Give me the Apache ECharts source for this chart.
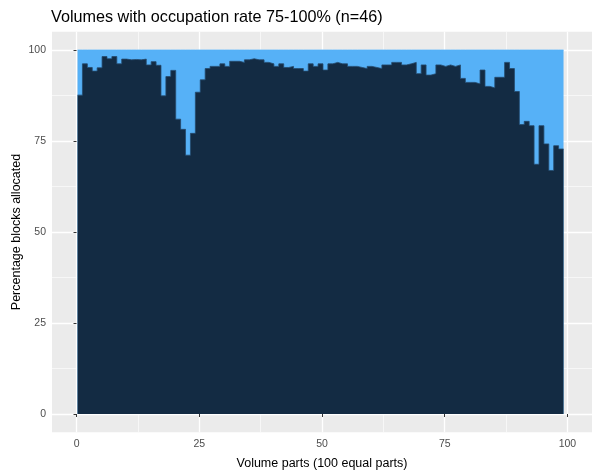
<!DOCTYPE html>
<html>
<head>
<meta charset="utf-8">
<script src="https://cdn.jsdelivr.net/npm/echarts@6/dist/echarts.min.js"></script>
<style>
  html, body { margin: 0; padding: 0; background: #ffffff; }
  #chart { width: 592px; height: 471px; }
</style>
</head>
<body>
<div id="chart"></div>
<script>
// Share of blocks allocated in each of the 99 volume parts (percent)
const allocated = [
  87.6, 96.2, 95.2, 94.2, 95.1, 98.2, 97.6, 98.2, 96.2, 97.5,
  97.3, 97.4, 97.3, 97.5, 95.9, 96.8, 95.8, 87.4, 92.7, 94.4,
  81.0, 78.2, 71.1, 77.1, 88.4, 91.8, 94.9, 95.5, 95.5, 96.2,
  95.5, 96.9, 96.9, 96.6, 97.3, 97.6, 97.3, 97.3, 96.6, 96.2,
  95.5, 96.2, 95.2, 95.5, 94.9, 94.9, 94.2, 96.2, 95.5, 96.2,
  94.5, 96.2, 96.6, 96.2, 96.2, 95.5, 95.5, 95.2, 94.9, 95.5,
  95.2, 94.9, 95.9, 95.9, 96.6, 96.6, 95.9, 96.2, 96.6, 93.5,
  95.9, 93.1, 93.5, 95.9, 95.5, 95.9, 95.5, 95.9, 92.2, 91.1,
  91.1, 90.7, 94.5, 90.0, 89.6, 92.5, 92.5, 96.6, 94.9, 88.6,
  79.5, 80.4, 79.2, 68.6, 79.2, 74.2, 66.9, 73.7, 72.8
];
const fullShare = 100;          // every part is drawn against a 100 % column
const firstPartLeft = 0.2;      // x position where the first part begins
const partWidth = 1;
const xTicks = [0, 25, 50, 75, 100];
const xMinorTicks = [12.5, 37.5, 62.5, 87.5];
const yTicks = [0, 25, 50, 75, 100];
const yMinorTicks = [12.5, 37.5, 62.5, 87.5];

const FONT = 'Liberation Sans, Arial, sans-serif';
const DARK = '#132B43';
const LIGHT = '#56B1F7';

// Columns are drawn as one stepped area so neighbouring parts join without seams.
const edge = i => firstPartLeft + i * partWidth;
const allocatedSteps = allocated.map((v, i) => [edge(i), v]);
allocatedSteps.push([edge(allocated.length), allocated[allocated.length - 1]]);
const fullSteps = allocated.map((v, i) => [edge(i), fullShare]);
fullSteps.push([edge(allocated.length), fullShare]);

function mainAxis(ticks, extra) {
  return Object.assign({
    type: 'value', min: -5, max: 105,
    axisLine: { show: false },
    axisTick: { show: true, customValues: ticks, length: 3, lineStyle: { color: '#333333', width: 1 } },
    axisLabel: { customValues: ticks, color: '#4D4D4D', fontSize: 10.5, fontFamily: FONT, margin: 6 },
    splitLine: { show: true, lineStyle: { color: '#FFFFFF', width: 1.3 } },
    nameLocation: 'middle',
    nameMoveOverlap: false,
    nameTextStyle: { color: '#000000', fontSize: 12.5, fontFamily: FONT }
  }, extra);
}

function minorAxis(ticks, extra) {
  return Object.assign({
    type: 'value', min: -5, max: 105,
    axisLine: { show: false },
    axisTick: { show: false, customValues: ticks },
    axisLabel: { show: false, customValues: ticks },
    splitLine: { show: true, lineStyle: { color: '#FFFFFF', width: 0.6 } }
  }, extra);
}

function steppedArea(data, color, edgeColor) {
  return {
    type: 'line', xAxisIndex: 0, yAxisIndex: 0,
    step: 'end',
    showSymbol: false,
    silent: true,
    lineStyle: { color: edgeColor, width: 0.8 },
    areaStyle: { color: color, opacity: 1 },
    emphasis: { disabled: true },
    data: data
  };
}

const chart = echarts.init(document.getElementById('chart'), null, { renderer: 'canvas' });
chart.setOption({
  animation: false,
  backgroundColor: '#FFFFFF',
  title: {
    text: 'Volumes with occupation rate 75-100% (n=46)',
    left: 46, top: 5,
    textStyle: { fontSize: 16.2, fontWeight: 'normal', color: '#000000', fontFamily: FONT }
  },
  grid: {
    left: 52, right: 0, top: 31.8, bottom: 38.8,
    show: true, backgroundColor: '#EBEBEB', borderWidth: 0,
    outerBoundsMode: 'none'
  },
  xAxis: [
    mainAxis(xTicks, { name: 'Volume parts (100 equal parts)', nameGap: 25 }),
    minorAxis(xMinorTicks, { position: 'bottom' })
  ],
  yAxis: [
    mainAxis(yTicks, { name: 'Percentage blocks allocated', nameGap: 29 }),
    minorAxis(yMinorTicks, { position: 'left' })
  ],
  series: [
    steppedArea(fullSteps, LIGHT, LIGHT),
    steppedArea(allocatedSteps, DARK, '#24496B')
  ]
});
</script>
</body>
</html>
